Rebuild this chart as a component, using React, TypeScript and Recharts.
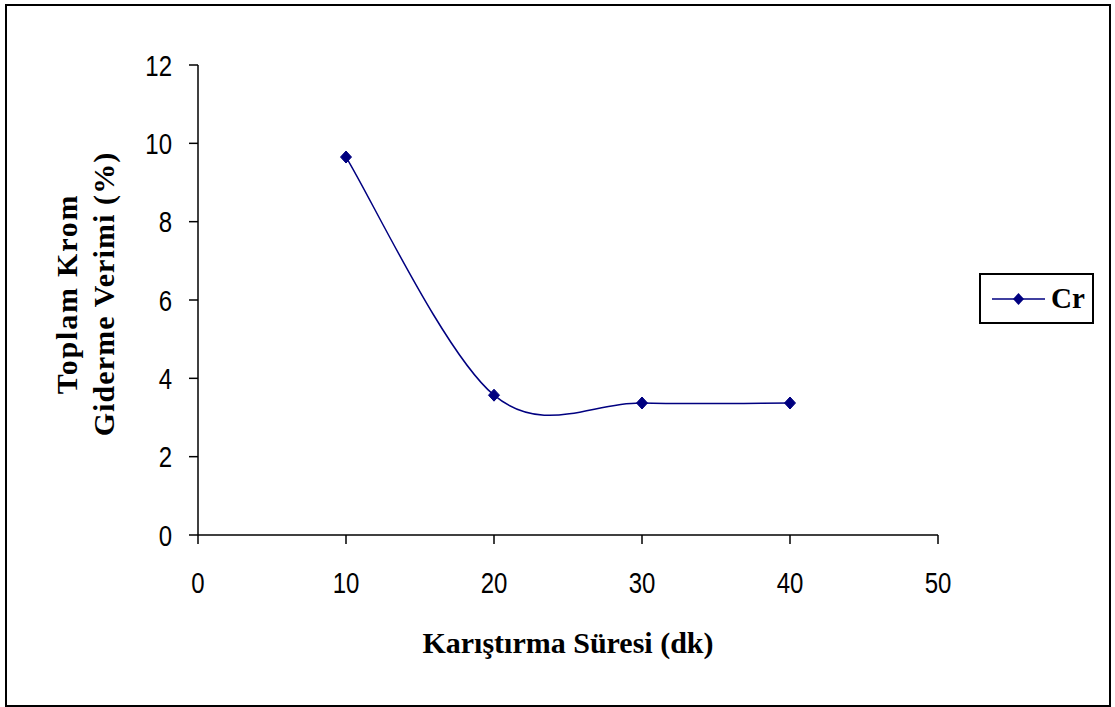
import React from 'react';
import { LineChart, Line, XAxis, YAxis, Legend } from 'recharts';

const mixTimes = [10, 20, 30, 40];
const crRemoval = [9.65, 3.57, 3.37, 3.37];
const xTicks = [0, 10, 20, 30, 40, 50];
const yTicks = [0, 2, 4, 6, 8, 10, 12];

const data = mixTimes.map((t, i) => ({ t, cr: crRemoval[i] }));

const NAVY = '#000080';
const SERIF = '"Liberation Serif", "Times New Roman", serif';
const SANS = '"Liberation Sans", Arial, sans-serif';

// Excel-style smoothed line: bezier segments with tangents from neighbours
const excelSmooth = (context: any) => {
  let pts: number[][] = [];
  return {
    areaStart() {},
    areaEnd() {},
    lineStart() {
      pts = [];
    },
    lineEnd() {
      if (!pts.length) return;
      context.moveTo(pts[0][0], pts[0][1]);
      for (let i = 0; i < pts.length - 1; i++) {
        const p0 = pts[i - 1] || pts[i];
        const p1 = pts[i];
        const p2 = pts[i + 1];
        const p3 = pts[i + 2] || pts[i + 1];
        context.bezierCurveTo(
          p1[0] + (p2[0] - p0[0]) / 6,
          p1[1] + (p2[1] - p0[1]) / 6,
          p2[0] - (p3[0] - p1[0]) / 6,
          p2[1] - (p3[1] - p1[1]) / 6,
          p2[0],
          p2[1]
        );
      }
    },
    point(x: number, y: number) {
      pts.push([+x, +y]);
    },
  };
};

const Diamond = (props: any) => {
  const { cx, cy } = props;
  if (cx == null || cy == null) return null;
  return (
    <polygon
      points={`${cx},${cy - 6} ${cx + 5.5},${cy} ${cx},${cy + 6} ${cx - 5.5},${cy}`}
      fill={NAVY}
      stroke={NAVY}
    />
  );
};

// narrow tick labels (no condensed font installed, so squeeze horizontally)
const NarrowTick = (props: any) => {
  const { x, y, payload, textAnchor, vertical } = props;
  return (
    <g transform={`translate(${x},${y})`}>
      <text
        transform="scale(0.8,1)"
        textAnchor={textAnchor}
        dy={vertical ? '0.36em' : '0.71em'}
        fontFamily={SANS}
        fontSize={30}
        fill="#000"
      >
        {payload.value}
      </text>
    </g>
  );
};

const LegendBox = () => (
  <div
    style={{
      width: 111,
      height: 47,
      border: '2px solid #000',
      background: '#fff',
      display: 'flex',
      alignItems: 'center',
      boxSizing: 'content-box',
    }}
  >
    <svg width={62} height={20} style={{ marginLeft: 8 }}>
      <line x1={3} y1={10} x2={56} y2={10} stroke={NAVY} strokeWidth={1.5} />
      <polygon points="29.5,4 35,10 29.5,16 24,10" fill={NAVY} />
    </svg>
    <span style={{ fontFamily: SERIF, fontWeight: 'bold', fontSize: 29, color: '#000', lineHeight: 1 }}>Cr</span>
  </div>
);

const YTitle = (props: any) => {
  const vb = props.viewBox || {};
  const cy = vb.y + vb.height / 2 - 6;
  const common = {
    textAnchor: 'middle' as const,
    dominantBaseline: 'central' as const,
    fontFamily: SERIF,
    fontWeight: 'bold',
    fontSize: 30,
    fill: '#000',
  };
  return (
    <g>
      <text x={66} y={cy} transform={`rotate(-90, 66, ${cy})`} letterSpacing={1.8} {...common}>
        Toplam Krom
      </text>
      <text x={103} y={cy} transform={`rotate(-90, 103, ${cy})`} letterSpacing={1.1} {...common}>
        Giderme Verimi (%)
      </text>
    </g>
  );
};

export default function App() {
  return (
    <div style={{ position: 'absolute', left: 0, top: 0, width: 1115, height: 707, background: '#fff' }}>
      <div
        style={{
          position: 'absolute',
          left: 5,
          top: 4,
          width: 1106,
          height: 703,
          border: '2px solid #000',
          boxSizing: 'border-box',
        }}
      />
      <div style={{ position: 'absolute', left: 0, top: 0 }}>
        <LineChart width={1115} height={707} data={data} margin={{ top: 65, right: 177, bottom: 112, left: 138 }}>
          <XAxis
            dataKey="t"
            type="number"
            domain={[0, 50]}
            ticks={xTicks}
            axisLine={{ stroke: '#000', strokeWidth: 1.5 }}
            tickLine={{ stroke: '#000', strokeWidth: 1.5 }}
            tickSize={9}
            tickMargin={28}
            height={60}
            tick={<NarrowTick />}
            label={{
              value: 'Karıştırma Süresi (dk)',
              position: 'insideBottom',
              offset: -58,
              fill: '#000',
              fontFamily: SERIF,
              fontWeight: 'bold',
              fontSize: 30,
            }}
          />
          <YAxis
            type="number"
            domain={[0, 12]}
            ticks={yTicks}
            width={60}
            axisLine={{ stroke: '#000', strokeWidth: 1.5 }}
            tickLine={{ stroke: '#000', strokeWidth: 1.5 }}
            tickSize={9}
            tickMargin={17}
            tick={<NarrowTick vertical />}
            label={<YTitle />}
          />
          <Legend
            layout="vertical"
            align="center"
            verticalAlign="middle"
            content={<LegendBox />}
            wrapperStyle={{ left: 979, top: 273, width: 115, height: 51 }}
          />
          <Line
            type={excelSmooth as any}
            dataKey="cr"
            name="Cr"
            stroke={NAVY}
            strokeWidth={1.5}
            dot={<Diamond />}
            activeDot={false}
            isAnimationActive={false}
          />
        </LineChart>
      </div>
    </div>
  );
}
